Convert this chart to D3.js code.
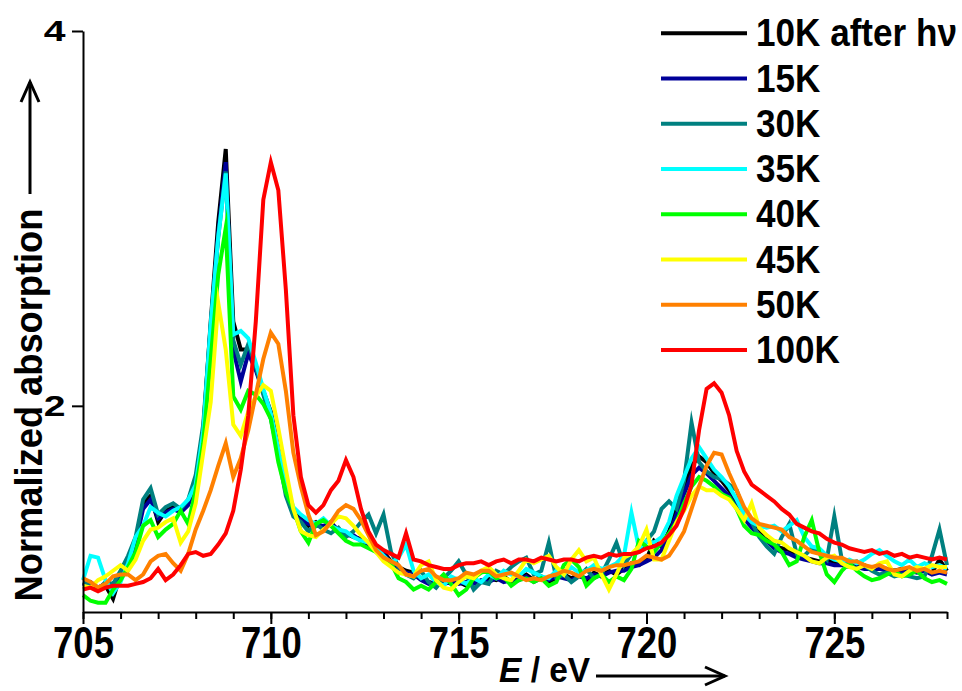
<!DOCTYPE html>
<html>
<head>
<meta charset="utf-8">
<script src="https://cdn.jsdelivr.net/npm/d3@7/dist/d3.min.js"></script>
<style>
  html, body { margin: 0; padding: 0; background: #ffffff; }
  svg text { font-family: "Liberation Sans", Arial, Helvetica, sans-serif; font-weight: bold; fill: #000; }
</style>
</head>
<body>
<svg id="chart" width="962" height="691"></svg>
<script>
// Photon energy grid (eV)
const energy = [
  705.0,705.2,705.4,705.6,705.8,706.0,706.2,706.4,706.6,706.8,
  707.0,707.2,707.4,707.6,707.8,708.0,708.2,708.4,708.6,708.8,
  709.0,709.2,709.4,709.6,709.8,710.0,710.2,710.4,710.6,710.8,
  711.0,711.2,711.4,711.6,711.8,712.0,712.2,712.4,712.6,712.8,
  713.0,713.2,713.4,713.6,713.8,714.0,714.2,714.4,714.6,714.8,
  715.0,715.2,715.4,715.6,715.8,716.0,716.2,716.4,716.6,716.8,
  717.0,717.2,717.4,717.6,717.8,718.0,718.2,718.4,718.6,718.8,
  719.0,719.2,719.4,719.6,719.8,720.0,720.2,720.4,720.6,720.8,
  721.0,721.2,721.4,721.6,721.8,722.0,722.2,722.4,722.6,722.8,
  723.0,723.2,723.4,723.6,723.8,724.0,724.2,724.4,724.6,724.8,
  725.0,725.2,725.4,725.6,725.8,726.0,726.2,726.4,726.6,726.8,
  727.0,727.2,727.4,727.6,727.8,728.0
];

// Normalized absorption for each temperature
const abs10K = [
  1.05,1.04,1.03,1.04,0.97,1.10,1.15,1.28,1.48,1.52,
  1.38,1.44,1.46,1.44,1.48,1.60,1.87,2.45,2.98,3.37,
  2.45,2.30,2.30,2.20,2.08,1.97,1.78,1.56,1.43,1.40,
  1.36,1.38,1.35,1.38,1.33,1.32,1.30,1.29,1.27,1.25,
  1.22,1.17,1.14,1.12,1.11,1.08,1.06,1.05,1.07,1.05,
  1.06,1.04,1.07,1.06,1.08,1.07,1.09,1.06,1.08,1.10,
  1.07,1.09,1.06,1.08,1.10,1.08,1.10,1.07,1.11,1.09,
  1.12,1.10,1.13,1.16,1.15,1.18,1.28,1.25,1.33,1.45,
  1.56,1.68,1.73,1.70,1.64,1.60,1.55,1.48,1.42,1.37,
  1.34,1.30,1.25,1.24,1.23,1.21,1.19,1.18,1.17,1.18,
  1.16,1.17,1.15,1.14,1.15,1.13,1.14,1.13,1.12,1.13,
  1.12,1.13,1.12,1.11,1.18,1.12
];
const abs15K = [
  1.04,1.06,1.03,1.05,1.02,1.09,1.16,1.27,1.45,1.50,
  1.40,1.43,1.45,1.43,1.47,1.58,1.85,2.42,2.92,3.30,
  2.30,2.13,2.28,2.19,2.07,1.95,1.76,1.55,1.42,1.39,
  1.37,1.36,1.36,1.37,1.34,1.31,1.31,1.28,1.26,1.24,
  1.21,1.16,1.13,1.11,1.10,1.07,1.05,1.06,1.05,1.06,
  1.05,1.06,1.05,1.07,1.06,1.08,1.06,1.07,1.07,1.09,
  1.06,1.08,1.07,1.09,1.08,1.07,1.09,1.08,1.10,1.09,
  1.11,1.12,1.12,1.14,1.15,1.17,1.19,1.23,1.31,1.42,
  1.53,1.63,1.67,1.64,1.60,1.56,1.52,1.46,1.40,1.35,
  1.31,1.28,1.24,1.22,1.21,1.19,1.18,1.17,1.16,1.16,
  1.15,1.15,1.14,1.14,1.13,1.13,1.13,1.12,1.12,1.11,
  1.12,1.11,1.12,1.10,1.11,1.10
];
const abs30K = [
  1.06,1.04,1.02,1.06,1.05,1.12,1.20,1.30,1.50,1.56,
  1.42,1.46,1.48,1.45,1.50,1.63,1.90,2.43,2.90,3.25,
  2.35,2.22,2.33,2.21,2.06,1.93,1.74,1.52,1.41,1.38,
  1.33,1.37,1.34,1.32,1.35,1.30,1.33,1.38,1.42,1.32,
  1.42,1.22,1.14,1.10,1.08,1.12,1.06,1.03,1.08,1.12,
  1.17,1.10,1.02,1.06,1.05,1.12,1.10,1.14,1.17,1.19,
  1.10,1.12,1.27,1.08,1.10,1.06,1.09,1.13,1.08,1.10,
  1.18,1.27,1.15,1.21,1.22,1.28,1.33,1.45,1.49,1.45,
  1.60,1.91,1.70,1.65,1.62,1.61,1.58,1.55,1.44,1.38,
  1.30,1.25,1.21,1.30,1.37,1.21,1.20,1.24,1.22,1.18,
  1.41,1.18,1.16,1.17,1.15,1.12,1.10,1.11,1.09,1.10,
  1.09,1.08,1.09,1.20,1.34,1.15
];
const abs35K = [
  1.07,1.20,1.19,1.07,1.00,1.06,1.16,1.30,1.36,1.46,
  1.43,1.41,1.44,1.46,1.50,1.58,1.86,2.44,2.90,3.24,
  2.38,2.40,2.36,2.23,2.09,1.96,1.77,1.58,1.46,1.42,
  1.39,1.37,1.40,1.36,1.34,1.33,1.30,1.28,1.27,1.25,
  1.20,1.16,1.19,1.26,1.12,1.08,1.10,1.06,1.04,1.09,
  1.07,1.05,1.08,1.06,1.10,1.08,1.12,1.10,1.09,1.13,
  1.11,1.09,1.08,1.12,1.10,1.14,1.11,1.12,1.15,1.13,
  1.14,1.16,1.20,1.43,1.24,1.28,1.27,1.30,1.38,1.52,
  1.62,1.72,1.78,1.72,1.66,1.62,1.57,1.50,1.42,1.38,
  1.36,1.35,1.36,1.33,1.36,1.39,1.30,1.25,1.24,1.20,
  1.18,1.17,1.18,1.16,1.18,1.21,1.23,1.20,1.17,1.15,
  1.18,1.14,1.16,1.14,1.15,1.13
];
const abs40K = [
  0.99,0.96,0.95,0.95,1.02,1.07,1.14,1.22,1.36,1.39,
  1.30,1.34,1.37,1.44,1.37,1.55,1.80,2.25,2.70,2.95,
  2.05,1.98,2.08,2.06,2.01,1.93,1.70,1.54,1.45,1.33,
  1.27,1.37,1.39,1.36,1.32,1.28,1.26,1.26,1.24,1.22,
  1.19,1.16,1.08,1.06,1.02,1.04,1.02,1.06,1.10,1.05,
  0.99,1.02,1.08,1.11,1.12,1.08,1.09,1.04,1.07,1.08,
  1.06,1.08,1.04,1.06,1.15,1.18,1.14,1.04,1.08,1.10,
  1.06,1.09,1.07,1.13,1.28,1.25,1.22,1.27,1.32,1.38,
  1.48,1.57,1.62,1.60,1.57,1.53,1.51,1.45,1.36,1.32,
  1.31,1.28,1.26,1.22,1.15,1.17,1.30,1.39,1.22,1.10,
  1.06,1.12,1.16,1.12,1.09,1.07,1.08,1.10,1.12,1.09,
  1.10,1.12,1.08,1.06,1.07,1.05
];
const abs45K = [
  1.04,1.03,1.07,1.09,1.12,1.15,1.12,1.18,1.28,1.34,
  1.35,1.38,1.40,1.27,1.33,1.48,1.75,2.02,2.55,2.30,
  1.90,1.84,1.97,2.05,2.11,2.08,1.88,1.66,1.45,1.33,
  1.31,1.30,1.34,1.37,1.41,1.40,1.36,1.31,1.27,1.22,
  1.17,1.14,1.11,1.10,1.09,1.15,1.17,1.07,1.03,1.02,
  1.06,1.09,1.08,1.12,1.14,1.10,1.08,1.07,1.12,1.18,
  1.16,1.18,1.20,1.14,1.10,1.18,1.23,1.17,1.19,1.10,
  1.02,1.10,1.19,1.21,1.25,1.34,1.18,1.18,1.28,1.38,
  1.44,1.52,1.57,1.55,1.55,1.52,1.50,1.45,1.39,1.48,
  1.35,1.31,1.28,1.27,1.24,1.22,1.20,1.17,1.16,1.19,
  1.20,1.16,1.14,1.13,1.15,1.13,1.16,1.17,1.10,1.09,
  1.12,1.14,1.13,1.15,1.14,1.14
];
const abs50K = [
  1.08,1.06,1.03,1.05,1.09,1.10,1.10,1.07,1.10,1.17,
  1.20,1.21,1.16,1.12,1.21,1.34,1.44,1.55,1.68,1.80,
  1.62,1.72,1.87,2.06,2.25,2.39,2.33,2.08,1.75,1.57,
  1.42,1.31,1.33,1.38,1.44,1.47,1.45,1.39,1.31,1.23,
  1.19,1.17,1.15,1.10,1.09,1.12,1.13,1.09,1.07,1.07,
  1.08,1.11,1.10,1.12,1.12,1.09,1.10,1.11,1.09,1.07,
  1.08,1.07,1.09,1.10,1.12,1.11,1.09,1.12,1.13,1.12,
  1.14,1.15,1.15,1.16,1.17,1.20,1.19,1.18,1.20,1.26,
  1.33,1.45,1.57,1.68,1.75,1.74,1.64,1.55,1.46,1.40,
  1.37,1.36,1.35,1.34,1.30,1.28,1.25,1.22,1.21,1.20,
  1.19,1.19,1.17,1.17,1.15,1.14,1.15,1.13,1.12,1.13,
  1.14,1.12,1.13,1.11,1.12,1.11
];
const abs100K = [
  1.02,1.03,1.01,1.03,1.04,1.04,1.04,1.05,1.06,1.08,
  1.13,1.07,1.10,1.15,1.21,1.22,1.20,1.21,1.26,1.32,
  1.44,1.66,1.95,2.45,3.10,3.30,3.15,2.62,1.95,1.62,
  1.47,1.43,1.47,1.55,1.60,1.71,1.62,1.45,1.33,1.26,
  1.23,1.21,1.19,1.32,1.18,1.17,1.15,1.14,1.13,1.13,
  1.15,1.16,1.16,1.17,1.15,1.17,1.18,1.16,1.18,1.18,
  1.17,1.19,1.18,1.17,1.18,1.18,1.17,1.19,1.20,1.19,
  1.21,1.20,1.21,1.21,1.22,1.24,1.25,1.27,1.31,1.36,
  1.45,1.58,1.87,2.09,2.12,2.07,1.95,1.76,1.65,1.58,
  1.55,1.52,1.49,1.45,1.42,1.37,1.35,1.33,1.32,1.29,
  1.27,1.26,1.24,1.23,1.22,1.23,1.21,1.22,1.20,1.21,
  1.19,1.20,1.19,1.18,1.19,1.18
];

const seriesLabels = ["10K after h\u03BD", "15K", "30K", "35K", "40K", "45K", "50K", "100K"];
const seriesValues = [abs10K, abs15K, abs30K, abs35K, abs40K, abs45K, abs50K, abs100K];
const seriesColors = ["#000000", "#000099", "#008080", "#00FFFF", "#00FF00", "#FFFF00", "#FF8000", "#FF0000"];

const xMajorTicks = [705, 710, 715, 720, 725];
const xMinorTicks = [705,706,707,708,709,710,711,712,713,714,715,716,717,718,719,720,721,722,723,724,725,726,727,728];
const yTicks = [2, 4];

const svg = d3.select("#chart");

const x = d3.scaleLinear().domain([705, 728]).range([83, 947]);
const y = d3.scaleLinear().domain([0.9, 4]).range([612, 31]);

// spectra
const line = d3.line().x((d, i) => x(energy[i])).y(d => y(d));
svg.append("g")
  .selectAll("path")
  .data(seriesValues)
  .join("path")
  .attr("d", d => line(d))
  .attr("fill", "none")
  .attr("stroke", (d, i) => seriesColors[i])
  .attr("stroke-width", 4)
  .attr("stroke-linejoin", "miter")
  .attr("stroke-miterlimit", 10);

// x axis: minor ticks every 1 eV, labelled major ticks every 5 eV
const xMinor = svg.append("g").attr("transform", "translate(0,612)")
  .call(d3.axisBottom(x).tickValues(xMinorTicks).tickSize(7).tickSizeOuter(0).tickFormat(""));
xMinor.select(".domain").attr("stroke-width", 2);
xMinor.selectAll(".tick line").attr("stroke-width", 2);

const xMajor = svg.append("g").attr("transform", "translate(0,612)")
  .call(d3.axisBottom(x).tickValues(xMajorTicks).tickSize(12).tickSizeOuter(0).tickFormat(d3.format("d")));
xMajor.select(".domain").remove();
xMajor.selectAll(".tick line").attr("stroke-width", 2);
xMajor.selectAll(".tick text")
  .attr("font-size", 45)
  .attr("font-family", "Liberation Sans, Arial, sans-serif")
  .attr("font-weight", "bold")
  .attr("y", 14)
  .attr("transform", "scale(0.81,1)");

// y axis
const yAxis = svg.append("g").attr("transform", "translate(83,0)")
  .call(d3.axisLeft(y).tickValues(yTicks).tickSize(11).tickSizeOuter(0).tickFormat(d3.format("d")));
yAxis.select(".domain").attr("stroke-width", 2);
yAxis.selectAll(".tick line").attr("stroke-width", 2);
yAxis.selectAll(".tick text")
  .attr("font-size", 29)
  .attr("font-family", "Liberation Sans, Arial, sans-serif")
  .attr("font-weight", "bold")
  .attr("x", -13)
  .attr("transform", "scale(1.35,1)");

// axis titles with direction arrows
function arrow(g, x1, y1, x2, y2) {
  const ang = Math.atan2(y2 - y1, x2 - x1);
  const L = 20, W = 9;
  const bx = x2 - L * Math.cos(ang), by = y2 - L * Math.sin(ang);
  const nx = -Math.sin(ang) * W, ny = Math.cos(ang) * W;
  g.append("line").attr("x1", x1).attr("y1", y1).attr("x2", x2).attr("y2", y2)
    .attr("stroke", "#000").attr("stroke-width", 3);
  g.append("path")
    .attr("d", `M${bx + nx},${by + ny}L${x2},${y2}L${bx - nx},${by - ny}`)
    .attr("fill", "none").attr("stroke", "#000").attr("stroke-width", 3)
    .attr("stroke-linejoin", "miter");
}

const titles = svg.append("g");
titles.append("text")
  .attr("transform", "translate(42,405) rotate(-90) scale(0.93,1)")
  .attr("text-anchor", "middle")
  .attr("font-size", 39)
  .text("Normalized absorption");
arrow(titles, 30, 194, 30, 82);

const xt = titles.append("text")
  .attr("transform", "translate(499,682) scale(0.93,1)")
  .attr("font-size", 36);
xt.append("tspan").attr("font-style", "italic").text("E");
xt.append("tspan").text(" / eV");
arrow(titles, 596, 676, 725, 676);

// legend
const legend = svg.append("g");
const rowY = d3.scaleLinear().domain([0, 7]).range([33.3, 350]);
const rows = legend.selectAll("g").data(seriesLabels).join("g")
  .attr("transform", (d, i) => `translate(0,${rowY(i)})`);
rows.append("line")
  .attr("x1", 661).attr("x2", 747).attr("y1", 0).attr("y2", 0)
  .attr("stroke", (d, i) => seriesColors[i]).attr("stroke-width", 4);
rows.append("text")
  .attr("transform", "translate(756,13) scale(0.9,1)")
  .attr("font-size", 39)
  .text(d => d);
</script>
</body>
</html>
